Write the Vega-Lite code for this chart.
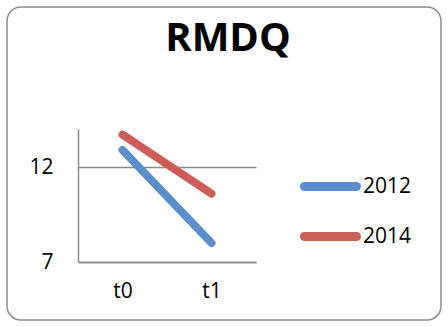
{
  "$schema": "https://vega.github.io/schema/vega-lite/v6.json",
  "width": 434,
  "height": 313,
  "autosize": "none",
  "padding": {"left": 7, "top": 7, "right": 7, "bottom": 7},
  "background": "white",
  "config": {
    "view": {"stroke": "#8c8c8c", "strokeWidth": 1.5, "cornerRadius": 14},
    "font": "Open Sans"
  },
  "title": {
    "text": "RMDQ",
    "fontSize": 40,
    "fontWeight": "bold",
    "color": "black",
    "anchor": "middle",
    "frame": "group",
    "baseline": "alphabetic",
    "offset": -46,
    "dy": 38,
    "dx": 4
  },
  "data": {
    "values": [
      {"time": "t0", "year": "2012", "value": 12.9},
      {"time": "t1", "year": "2012", "value": 8.0},
      {"time": "t0", "year": "2014", "value": 13.7},
      {"time": "t1", "year": "2014", "value": 10.6}
    ]
  },
  "mark": {"type": "line", "strokeWidth": 8, "strokeCap": "round"},
  "encoding": {
    "x": {
      "field": "time",
      "type": "nominal",
      "sort": ["t0", "t1"],
      "scale": {"type": "point", "range": [71, 249], "padding": 0.5},
      "axis": {
        "title": null,
        "labelAngle": 0,
        "labelFontSize": 21,
        "labelColor": "black",
        "labelPadding": 18,
        "ticks": false,
        "tickSize": 0,
        "domainColor": "#8c8c8c",
        "domainWidth": 1.5,
        "grid": false,
        "offset": -58
      }
    },
    "y": {
      "field": "value",
      "type": "quantitative",
      "scale": {"domain": [7, 14], "range": [255, 122], "nice": false, "zero": false},
      "axis": {
        "title": null,
        "values": [7, 12],
        "labelFontSize": 21,
        "labelColor": "black",
        "labelPadding": 25,
        "ticks": false,
        "tickSize": 0,
        "domainColor": "#8c8c8c",
        "domainWidth": 1.5,
        "grid": true,
        "gridColor": "#8c8c8c",
        "gridWidth": 1.5,
        "offset": -71
      }
    },
    "color": {
      "field": "year",
      "type": "nominal",
      "scale": {"domain": ["2012", "2014"], "range": ["#5B8FCB", "#CD5E57"]},
      "legend": {
        "title": null,
        "orient": "none",
        "legendX": 293,
        "legendY": 149,
        "padding": 0,
        "symbolType": "stroke",
        "symbolSize": 2704,
        "symbolStrokeWidth": 9,
        "labelFontSize": 21,
        "labelColor": "black",
        "labelOffset": 2,
        "rowPadding": 1,
        "encode": {"symbols": {"update": {"strokeCap": {"value": "round"}}}}
      }
    }
  }
}
